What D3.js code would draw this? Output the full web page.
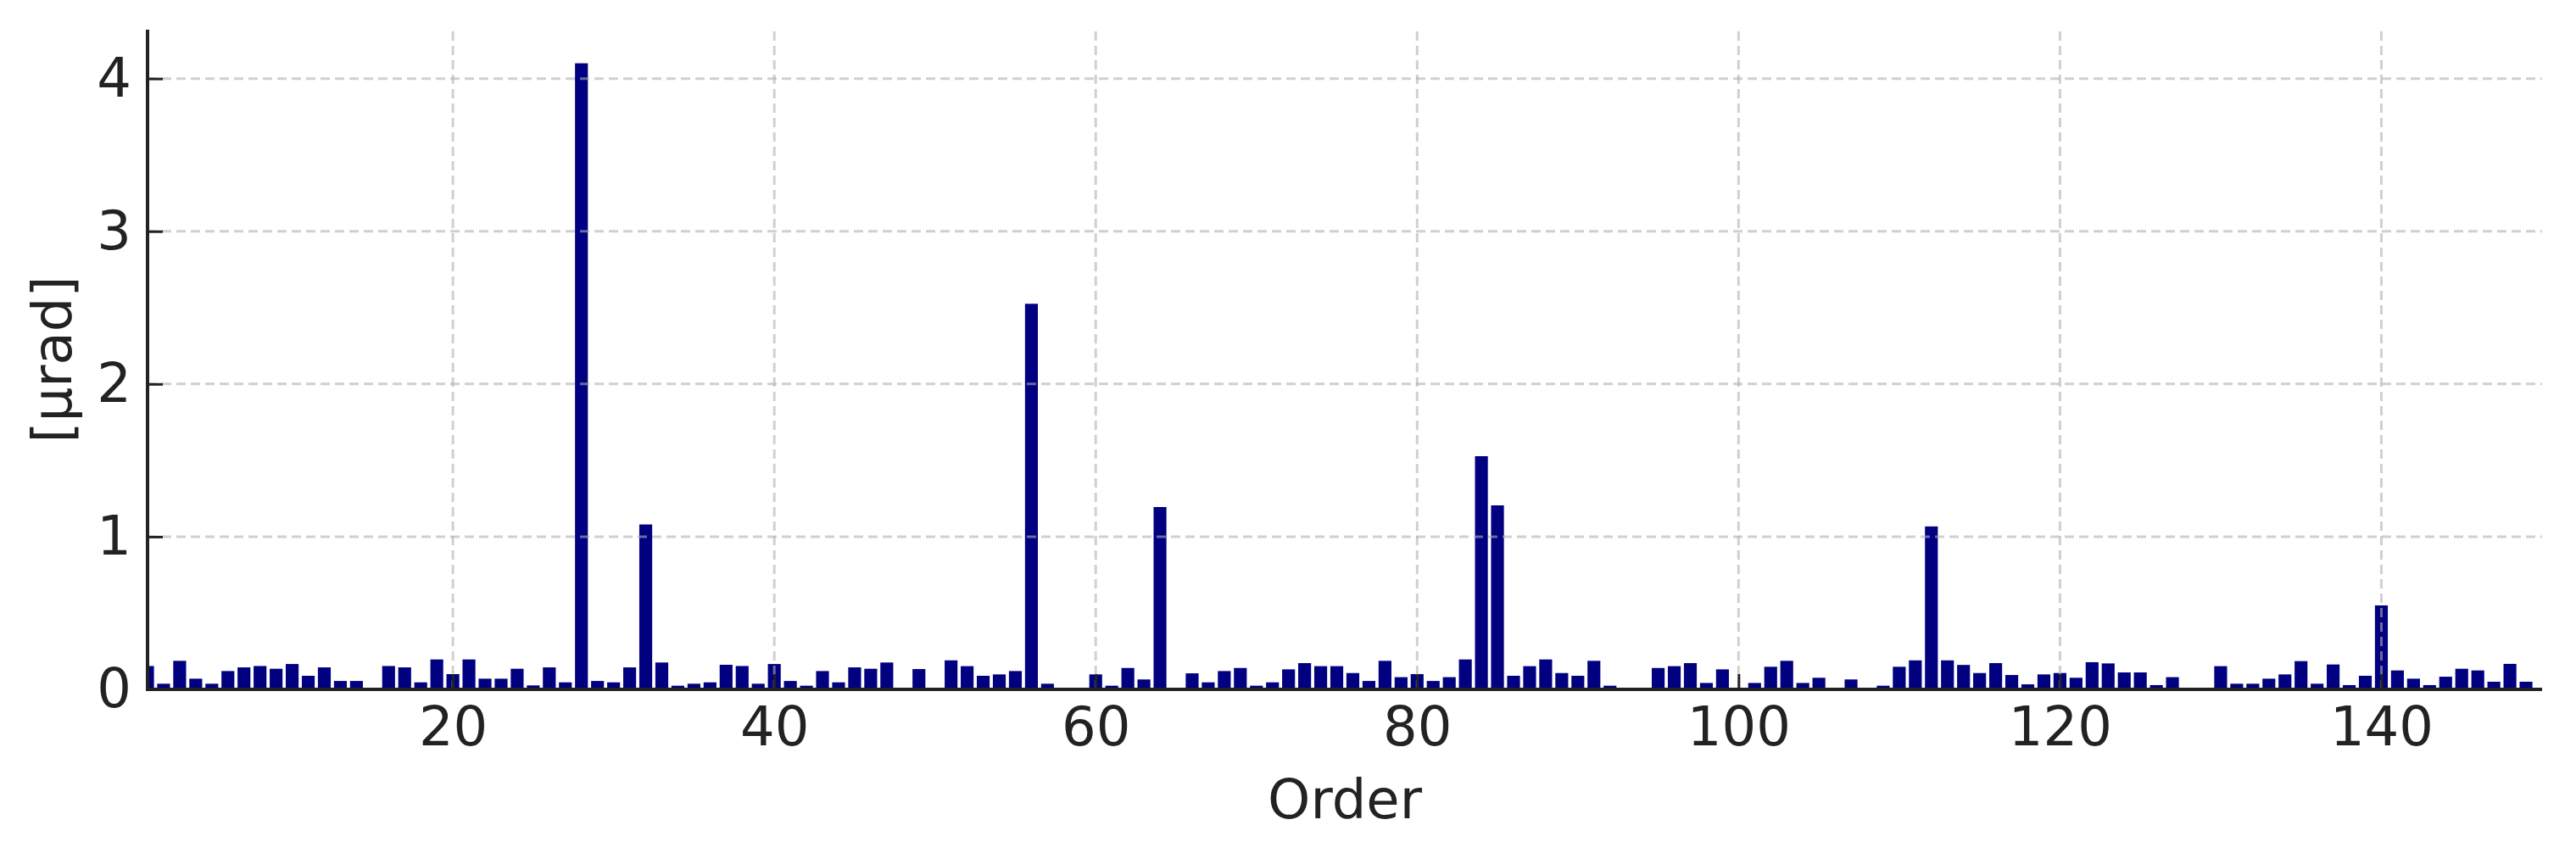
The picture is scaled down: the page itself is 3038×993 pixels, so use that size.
<!DOCTYPE html>
<html>
<head>
<meta charset="utf-8">
<script src="https://cdn.jsdelivr.net/npm/d3@7"></script>
<style>
  html, body { margin: 0; padding: 0; background: #ffffff; }
  svg { display: block; }
</style>
</head>
<body>
<svg id="chart" width="3038" height="993"></svg>
<script>
// ---- data ----
const orders = d3.range(1, 151);
const values = [
  0.153, 0.037, 0.187, 0.070, 0.037, 0.120, 0.144, 0.153, 0.135, 0.166,
  0.089, 0.144, 0.055, 0.055, 0.000, 0.153, 0.144, 0.046, 0.196, 0.100,
  0.196, 0.070, 0.070, 0.135, 0.026, 0.144, 0.046, 4.100, 0.055, 0.046,
  0.144, 1.080, 0.176, 0.024, 0.037, 0.046, 0.161, 0.153, 0.037, 0.166,
  0.055, 0.024, 0.120, 0.046, 0.144, 0.135, 0.176, 0.000, 0.133, 0.000,
  0.190, 0.152, 0.089, 0.098, 0.120, 2.525, 0.037, 0.000, 0.000, 0.098,
  0.024, 0.140, 0.065, 1.194, 0.000, 0.105, 0.046, 0.120, 0.140, 0.024,
  0.046, 0.131, 0.172, 0.152, 0.152, 0.107, 0.055, 0.187, 0.080, 0.100,
  0.055, 0.080, 0.196, 1.527, 1.205, 0.089, 0.152, 0.196, 0.107, 0.089,
  0.187, 0.024, 0.000, 0.000, 0.140, 0.152, 0.172, 0.042, 0.131, 0.000,
  0.042, 0.148, 0.187, 0.042, 0.076, 0.000, 0.065, 0.000, 0.024, 0.148,
  0.190, 1.067, 0.190, 0.160, 0.107, 0.172, 0.094, 0.033, 0.098, 0.107,
  0.076, 0.178, 0.170, 0.111, 0.111, 0.028, 0.080, 0.000, 0.000, 0.152,
  0.037, 0.037, 0.070, 0.098, 0.185, 0.037, 0.163, 0.028, 0.089, 0.550,
  0.124, 0.070, 0.028, 0.083, 0.135, 0.124, 0.050, 0.167, 0.050, 0.000
];
const xTicks = [20, 40, 60, 80, 100, 120, 140];
const yTicks = [0, 1, 2, 3, 4];
const xLabel = "Order";
const yLabel = "[µrad]";

// ---- layout ----
const svg = d3.select("#chart");
const plotL = 174, plotR = 2998, plotT = 35, plotB = 813;
const FONT = "'DejaVu Sans', sans-serif";

const x = d3.scaleLinear().domain([1, 150]).range([plotL, plotR]);
const y = d3.scaleLinear().domain([0, 4.32]).range([plotB, plotT]);

svg.append("defs").append("clipPath").attr("id", "plotclip")
  .append("rect").attr("x", plotL).attr("y", plotT)
  .attr("width", plotR - plotL).attr("height", plotB - plotT);

// bars
const data = orders.map((o, i) => ({ o, v: values[i] }));
svg.append("g").attr("clip-path", "url(#plotclip)")
  .selectAll("rect").data(data.filter(d => d.v > 0)).join("rect")
  .attr("x", d => x(d.o - 0.4))
  .attr("width", d => x(d.o + 0.4) - x(d.o - 0.4))
  .attr("y", d => y(d.v))
  .attr("height", d => y(0) - y(d.v))
  .attr("fill", "#000080");

// grid (drawn above bars)
const grid = svg.append("g").attr("stroke", "#b0b0b0").attr("stroke-opacity", 0.6)
  .attr("stroke-width", 3).attr("stroke-dasharray", "11,6");
grid.selectAll("line.gx").data(xTicks).join("line").attr("class", "gx")
  .attr("x1", d => x(d)).attr("x2", d => x(d))
  .attr("y1", plotB).attr("y2", plotT);
grid.selectAll("line.gy").data(yTicks.filter(d => d > 0)).join("line").attr("class", "gy")
  .attr("y1", d => y(d)).attr("y2", d => y(d))
  .attr("x1", plotL).attr("x2", plotR);

// axes
const xAxis = d3.axisBottom(x).tickValues(xTicks).tickFormat(d3.format("d"))
  .tickSizeInner(-18).tickSizeOuter(0).tickPadding(21);
const gx = svg.append("g").attr("transform", `translate(0,${plotB})`).call(xAxis);
gx.select(".domain").remove();
gx.selectAll(".tick line").attr("stroke", "#222").attr("stroke-width", 3);
gx.selectAll(".tick text").attr("font-family", FONT).attr("font-size", 64).attr("fill", "#222");

const yAxis = d3.axisLeft(y).tickValues(yTicks).tickFormat(d3.format("d"))
  .tickSizeInner(-18).tickSizeOuter(0).tickPadding(19);
const gy = svg.append("g").attr("transform", `translate(${plotL},0)`).call(yAxis);
gy.select(".domain").remove();
gy.selectAll(".tick line").attr("stroke", "#222").attr("stroke-width", 3);
gy.selectAll(".tick text").attr("font-family", FONT).attr("font-size", 64).attr("fill", "#222");

// spines
svg.append("line").attr("x1", plotL).attr("x2", plotL).attr("y1", plotT).attr("y2", plotB + 2)
  .attr("stroke", "#222").attr("stroke-width", 4);
svg.append("line").attr("x1", plotL - 2).attr("x2", plotR).attr("y1", plotB).attr("y2", plotB)
  .attr("stroke", "#222").attr("stroke-width", 4);

// labels
svg.append("text").attr("x", (plotL + plotR) / 2).attr("y", 965)
  .attr("text-anchor", "middle").attr("font-family", FONT).attr("font-size", 64)
  .attr("fill", "#222").text(xLabel);
svg.append("text").attr("transform", `translate(84,${(plotT + plotB) / 2}) rotate(-90)`)
  .attr("text-anchor", "middle").attr("font-family", FONT).attr("font-size", 64)
  .attr("fill", "#222").text(yLabel);
</script>
</body>
</html>
